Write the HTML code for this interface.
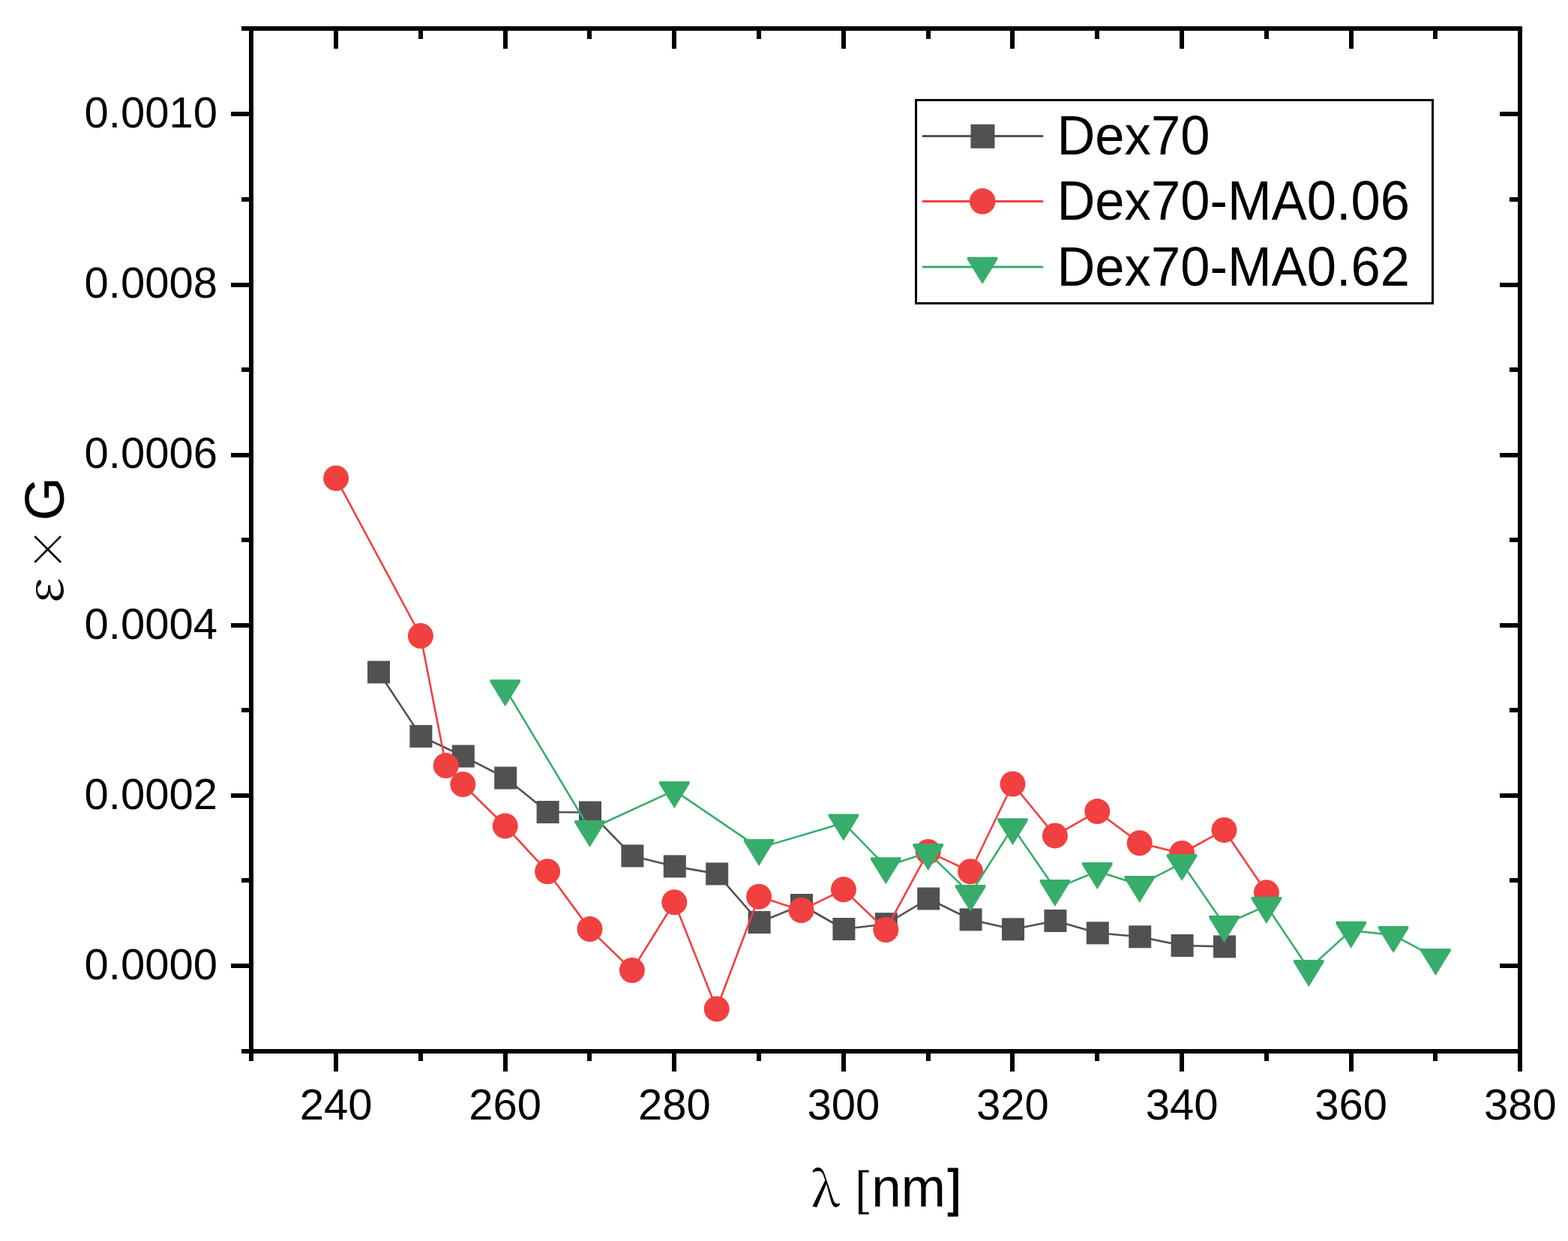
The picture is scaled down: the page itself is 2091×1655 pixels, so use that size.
<!DOCTYPE html>
<html><head><meta charset="utf-8"><title>Dex70 chart</title>
<style>
html,body{margin:0;padding:0;background:#fff;}
svg{display:block;}
text{font-family:"Liberation Sans",Arial,sans-serif;fill:#000;}
.tk{font-size:58px;}
.lg{font-size:75px;}
.ti{font-size:75px;}
.sym{font-family:"Noto Serif CJK SC","Liberation Serif",serif;}
</style></head>
<body>
<svg width="2091" height="1655" viewBox="0 0 2091 1655">
<rect width="2091" height="1655" fill="#fff"/>
<g>
<polyline fill="none" stroke="#515151" stroke-width="2.6" stroke-linejoin="round" stroke-linecap="round" points="505,896.4 561.4,981.9 617.8,1008.5 674.2,1037.5 730.6,1083 787,1083.5 843.4,1141.4 899.8,1155.4 956.2,1165.4 1012.6,1230 1069,1207 1125.4,1239 1181.8,1232.2 1238.2,1198.5 1294.6,1226.4 1351,1239.3 1407.4,1228 1463.8,1244.3 1520.2,1249.3 1576.6,1261 1633,1262.4"/>
<rect x="490" y="881.4" width="30" height="30" fill="#515151"/>
<rect x="546.4" y="966.9" width="30" height="30" fill="#515151"/>
<rect x="602.8" y="993.5" width="30" height="30" fill="#515151"/>
<rect x="659.2" y="1022.5" width="30" height="30" fill="#515151"/>
<rect x="715.6" y="1068" width="30" height="30" fill="#515151"/>
<rect x="772" y="1068.5" width="30" height="30" fill="#515151"/>
<rect x="828.4" y="1126.4" width="30" height="30" fill="#515151"/>
<rect x="884.8" y="1140.4" width="30" height="30" fill="#515151"/>
<rect x="941.2" y="1150.4" width="30" height="30" fill="#515151"/>
<rect x="997.6" y="1215" width="30" height="30" fill="#515151"/>
<rect x="1054" y="1192" width="30" height="30" fill="#515151"/>
<rect x="1110.4" y="1224" width="30" height="30" fill="#515151"/>
<rect x="1166.8" y="1217.2" width="30" height="30" fill="#515151"/>
<rect x="1223.2" y="1183.5" width="30" height="30" fill="#515151"/>
<rect x="1279.6" y="1211.4" width="30" height="30" fill="#515151"/>
<rect x="1336" y="1224.3" width="30" height="30" fill="#515151"/>
<rect x="1392.4" y="1213" width="30" height="30" fill="#515151"/>
<rect x="1448.8" y="1229.3" width="30" height="30" fill="#515151"/>
<rect x="1505.2" y="1234.3" width="30" height="30" fill="#515151"/>
<rect x="1561.6" y="1246" width="30" height="30" fill="#515151"/>
<rect x="1618" y="1247.4" width="30" height="30" fill="#515151"/>
<polyline fill="none" stroke="#F14040" stroke-width="2.6" stroke-linejoin="round" stroke-linecap="round" points="448.1,637.8 560.9,848 594.7,1021 617.3,1046 673.7,1101.5 730.1,1162.3 786.5,1239.1 842.9,1294 899.3,1203.3 955.7,1345.5 1012.1,1195.7 1068.5,1214 1124.9,1186.3 1181.3,1240.1 1237.7,1135.9 1294.1,1162.2 1350.5,1045.5 1406.9,1114.4 1463.3,1082.1 1519.7,1124.3 1576.1,1138 1632.5,1106.9 1688.9,1190.2"/>
<circle cx="448.1" cy="637.8" r="17" fill="#F14040"/>
<circle cx="560.9" cy="848" r="17" fill="#F14040"/>
<circle cx="594.7" cy="1021" r="17" fill="#F14040"/>
<circle cx="617.3" cy="1046" r="17" fill="#F14040"/>
<circle cx="673.7" cy="1101.5" r="17" fill="#F14040"/>
<circle cx="730.1" cy="1162.3" r="17" fill="#F14040"/>
<circle cx="786.5" cy="1239.1" r="17" fill="#F14040"/>
<circle cx="842.9" cy="1294" r="17" fill="#F14040"/>
<circle cx="899.3" cy="1203.3" r="17" fill="#F14040"/>
<circle cx="955.7" cy="1345.5" r="17" fill="#F14040"/>
<circle cx="1012.1" cy="1195.7" r="17" fill="#F14040"/>
<circle cx="1068.5" cy="1214" r="17" fill="#F14040"/>
<circle cx="1124.9" cy="1186.3" r="17" fill="#F14040"/>
<circle cx="1181.3" cy="1240.1" r="17" fill="#F14040"/>
<circle cx="1237.7" cy="1135.9" r="17" fill="#F14040"/>
<circle cx="1294.1" cy="1162.2" r="17" fill="#F14040"/>
<circle cx="1350.5" cy="1045.5" r="17" fill="#F14040"/>
<circle cx="1406.9" cy="1114.4" r="17" fill="#F14040"/>
<circle cx="1463.3" cy="1082.1" r="17" fill="#F14040"/>
<circle cx="1519.7" cy="1124.3" r="17" fill="#F14040"/>
<circle cx="1576.1" cy="1138" r="17" fill="#F14040"/>
<circle cx="1632.5" cy="1106.9" r="17" fill="#F14040"/>
<circle cx="1688.9" cy="1190.2" r="17" fill="#F14040"/>
<polyline fill="none" stroke="#37AD6B" stroke-width="2.6" stroke-linejoin="round" stroke-linecap="round" points="673.7,918.2 786.5,1106 899.3,1054.1 1012.1,1130.9 1124.9,1097.4 1181.3,1155.3 1237.7,1137 1294.1,1192 1350.5,1103.2 1406.9,1185.1 1463.3,1162 1519.7,1180.1 1576.1,1151.1 1632.5,1232.9 1688.9,1208 1745.3,1292.1 1801.7,1240.8 1858.1,1247.1 1914.5,1277"/>
<polygon fill="#37AD6B" points="653.5,906.2 693.9,906.2 693.9,909.4 673.7,942.2 653.5,909.4"/>
<polygon fill="#37AD6B" points="766.3,1094 806.7,1094 806.7,1097.2 786.5,1130 766.3,1097.2"/>
<polygon fill="#37AD6B" points="879.1,1042.1 919.5,1042.1 919.5,1045.3 899.3,1078.1 879.1,1045.3"/>
<polygon fill="#37AD6B" points="991.9,1118.9 1032.3,1118.9 1032.3,1122.1 1012.1,1154.9 991.9,1122.1"/>
<polygon fill="#37AD6B" points="1104.7,1085.4 1145.1,1085.4 1145.1,1088.6 1124.9,1121.4 1104.7,1088.6"/>
<polygon fill="#37AD6B" points="1161.1,1143.3 1201.5,1143.3 1201.5,1146.5 1181.3,1179.3 1161.1,1146.5"/>
<polygon fill="#37AD6B" points="1217.5,1125 1257.9,1125 1257.9,1128.2 1237.7,1161 1217.5,1128.2"/>
<polygon fill="#37AD6B" points="1273.9,1180 1314.3,1180 1314.3,1183.2 1294.1,1216 1273.9,1183.2"/>
<polygon fill="#37AD6B" points="1330.3,1091.2 1370.7,1091.2 1370.7,1094.4 1350.5,1127.2 1330.3,1094.4"/>
<polygon fill="#37AD6B" points="1386.7,1173.1 1427.1,1173.1 1427.1,1176.3 1406.9,1209.1 1386.7,1176.3"/>
<polygon fill="#37AD6B" points="1443.1,1150 1483.5,1150 1483.5,1153.2 1463.3,1186 1443.1,1153.2"/>
<polygon fill="#37AD6B" points="1499.5,1168.1 1539.9,1168.1 1539.9,1171.3 1519.7,1204.1 1499.5,1171.3"/>
<polygon fill="#37AD6B" points="1555.9,1139.1 1596.3,1139.1 1596.3,1142.3 1576.1,1175.1 1555.9,1142.3"/>
<polygon fill="#37AD6B" points="1612.3,1220.9 1652.7,1220.9 1652.7,1224.1 1632.5,1256.9 1612.3,1224.1"/>
<polygon fill="#37AD6B" points="1668.7,1196 1709.1,1196 1709.1,1199.2 1688.9,1232 1668.7,1199.2"/>
<polygon fill="#37AD6B" points="1725.1,1280.1 1765.5,1280.1 1765.5,1283.3 1745.3,1316.1 1725.1,1283.3"/>
<polygon fill="#37AD6B" points="1781.5,1228.8 1821.9,1228.8 1821.9,1232 1801.7,1264.8 1781.5,1232"/>
<polygon fill="#37AD6B" points="1837.9,1235.1 1878.3,1235.1 1878.3,1238.3 1858.1,1271.1 1837.9,1238.3"/>
<polygon fill="#37AD6B" points="1894.3,1265 1934.7,1265 1934.7,1268.2 1914.5,1301 1894.3,1268.2"/>
</g>
<g>
<rect x="335" y="38" width="1692" height="1364" fill="none" stroke="#000" stroke-width="6"/>
<rect x="332" y="1405" width="6" height="10" fill="#000"/>
<rect x="332" y="41" width="6" height="11" fill="#000"/>
<rect x="445" y="1405" width="6" height="24" fill="#000"/>
<rect x="445" y="41" width="6" height="24" fill="#000"/>
<rect x="558" y="1405" width="6" height="10" fill="#000"/>
<rect x="558" y="41" width="6" height="11" fill="#000"/>
<rect x="671" y="1405" width="6" height="24" fill="#000"/>
<rect x="671" y="41" width="6" height="24" fill="#000"/>
<rect x="783" y="1405" width="6" height="10" fill="#000"/>
<rect x="783" y="41" width="6" height="11" fill="#000"/>
<rect x="896" y="1405" width="6" height="24" fill="#000"/>
<rect x="896" y="41" width="6" height="24" fill="#000"/>
<rect x="1009" y="1405" width="6" height="10" fill="#000"/>
<rect x="1009" y="41" width="6" height="11" fill="#000"/>
<rect x="1122" y="1405" width="6" height="24" fill="#000"/>
<rect x="1122" y="41" width="6" height="24" fill="#000"/>
<rect x="1235" y="1405" width="6" height="10" fill="#000"/>
<rect x="1235" y="41" width="6" height="11" fill="#000"/>
<rect x="1347" y="1405" width="6" height="24" fill="#000"/>
<rect x="1347" y="41" width="6" height="24" fill="#000"/>
<rect x="1460" y="1405" width="6" height="10" fill="#000"/>
<rect x="1460" y="41" width="6" height="11" fill="#000"/>
<rect x="1573" y="1405" width="6" height="24" fill="#000"/>
<rect x="1573" y="41" width="6" height="24" fill="#000"/>
<rect x="1686" y="1405" width="6" height="10" fill="#000"/>
<rect x="1686" y="41" width="6" height="11" fill="#000"/>
<rect x="1799" y="1405" width="6" height="24" fill="#000"/>
<rect x="1799" y="41" width="6" height="24" fill="#000"/>
<rect x="1911" y="1405" width="6" height="10" fill="#000"/>
<rect x="1911" y="41" width="6" height="11" fill="#000"/>
<rect x="2024" y="1405" width="6" height="24" fill="#000"/>
<rect x="2024" y="41" width="6" height="24" fill="#000"/>
<rect x="322" y="1399" width="10" height="6" fill="#000"/>
<rect x="2013" y="1399" width="11" height="6" fill="#000"/>
<rect x="308" y="1285" width="24" height="6" fill="#000"/>
<rect x="2000" y="1285" width="24" height="6" fill="#000"/>
<rect x="322" y="1171" width="10" height="6" fill="#000"/>
<rect x="2013" y="1171" width="11" height="6" fill="#000"/>
<rect x="308" y="1058" width="24" height="6" fill="#000"/>
<rect x="2000" y="1058" width="24" height="6" fill="#000"/>
<rect x="322" y="944" width="10" height="6" fill="#000"/>
<rect x="2013" y="944" width="11" height="6" fill="#000"/>
<rect x="308" y="831" width="24" height="6" fill="#000"/>
<rect x="2000" y="831" width="24" height="6" fill="#000"/>
<rect x="322" y="717" width="10" height="6" fill="#000"/>
<rect x="2013" y="717" width="11" height="6" fill="#000"/>
<rect x="308" y="604" width="24" height="6" fill="#000"/>
<rect x="2000" y="604" width="24" height="6" fill="#000"/>
<rect x="322" y="490" width="10" height="6" fill="#000"/>
<rect x="2013" y="490" width="11" height="6" fill="#000"/>
<rect x="308" y="377" width="24" height="6" fill="#000"/>
<rect x="2000" y="377" width="24" height="6" fill="#000"/>
<rect x="322" y="263" width="10" height="6" fill="#000"/>
<rect x="2013" y="263" width="11" height="6" fill="#000"/>
<rect x="308" y="149" width="24" height="6" fill="#000"/>
<rect x="2000" y="149" width="24" height="6" fill="#000"/>
<rect x="322" y="35" width="10" height="6" fill="#000"/>
<rect x="2013" y="35" width="11" height="6" fill="#000"/>
</g>
<g class="tk">
<text x="448.1" y="1493" text-anchor="middle">240</text>
<text x="673.7" y="1493" text-anchor="middle">260</text>
<text x="899.3" y="1493" text-anchor="middle">280</text>
<text x="1124.9" y="1493" text-anchor="middle">300</text>
<text x="1350.5" y="1493" text-anchor="middle">320</text>
<text x="1576.1" y="1493" text-anchor="middle">340</text>
<text x="1801.7" y="1493" text-anchor="middle">360</text>
<text x="2027.3" y="1493" text-anchor="middle">380</text>
<text x="290" y="1306" text-anchor="end">0.0000</text>
<text x="290" y="1078.8" text-anchor="end">0.0002</text>
<text x="290" y="851.6" text-anchor="end">0.0004</text>
<text x="290" y="624.4" text-anchor="end">0.0006</text>
<text x="290" y="397.2" text-anchor="end">0.0008</text>
<text x="290" y="170" text-anchor="end">0.0010</text>
</g>
<g>
<rect x="1221.5" y="133.5" width="689" height="271" fill="#fff" stroke="#000" stroke-width="3"/>
<line x1="1231" y1="181.5" x2="1390" y2="181.5" stroke="#515151" stroke-width="3" stroke-linecap="round"/>
<rect x="1294.5" y="165.8" width="32" height="32" fill="#515151"/>
<text transform="translate(1409.4,206.4) scale(0.941,1)" class="lg">Dex70</text>
<line x1="1231" y1="268.4" x2="1390" y2="268.4" stroke="#F14040" stroke-width="3" stroke-linecap="round"/>
<circle cx="1310.2" cy="268.4" r="17.3" fill="#F14040"/>
<text transform="translate(1409.4,293.2) scale(0.941,1)" class="lg">Dex70-MA0.06</text>
<line x1="1231" y1="355.9" x2="1390" y2="355.9" stroke="#37AD6B" stroke-width="3" stroke-linecap="round"/>
<polygon fill="#37AD6B" points="1289.9,342.8 1330.3,342.8 1330.3,346 1310.1,379.1 1289.9,346"/>
<text transform="translate(1409.4,381) scale(0.941,1)" class="lg">Dex70-MA0.62</text>
</g>
<text class="sym" style="font-size:65px" x="1082" y="1608.8">λ</text>
<text class="ti" transform="translate(1139,1607) scale(1,0.856)" stroke="#fff" stroke-width="1.2">[</text>
<text class="ti" style="font-size:74px" transform="translate(1162.3,1609) scale(0.96,1)">nm</text>
<text class="ti" transform="translate(1263.7,1608) scale(0.87,0.925)" stroke="#000" stroke-width="1.2">]</text>
<text class="sym" style="font-size:68px" transform="translate(84.1,803.9) rotate(-90)">ε</text>
<text class="sym" style="font-size:60px" transform="translate(86.4,762.4) rotate(-90)">×</text>
<text class="ti" transform="translate(85,694.4) rotate(-90)">G</text>
</svg>
</body></html>
